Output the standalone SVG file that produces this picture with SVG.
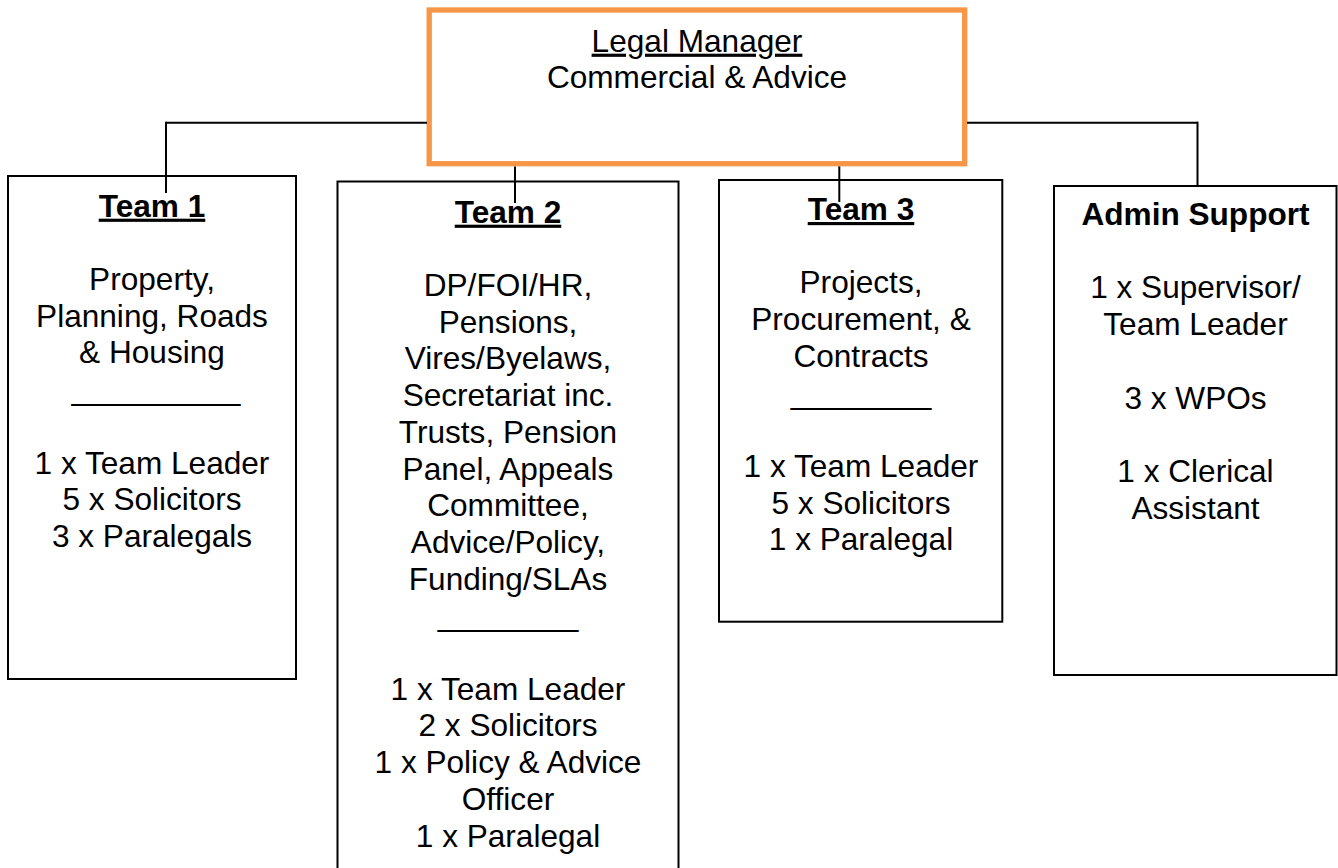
<svg xmlns="http://www.w3.org/2000/svg" width="1338" height="868" viewBox="0 0 1338 868">
  <style>
    .box { fill: #ffffff; stroke: #000000; stroke-width: 2; }
    .head { fill: #ffffff; stroke: #F79646; stroke-width: 5.3; }
    .t { font-family: "Liberation Sans", Arial, sans-serif; font-size: 31.6px; fill: #000000; text-anchor: middle; }
    .b { font-weight: bold; }
    .u { text-decoration: underline; }
    .conn line { stroke: #000000; stroke-width: 2; }
  </style>
  <rect x="0" y="0" width="1338" height="868" fill="#ffffff"/>

  <!-- Head of service -->
  <g id="legal-manager">
    <rect class="head" x="429.2" y="10" width="535.5" height="153.7"/>
    <text class="t u" x="697" y="51.7">Legal Manager</text>
    <text class="t" x="697" y="88.4">Commercial &amp; Advice</text>
  </g>

  <!-- Team 1 -->
  <g id="team-1">
    <rect class="box" x="8" y="176" width="288" height="503"/>
    <text class="t b u" x="152" y="216.7">Team 1</text>
    <text class="t" x="152" y="290"><tspan x="152">Property,</tspan><tspan x="152" dy="36.7">Planning, Roads</tspan><tspan x="152" dy="36.7">&amp; Housing</tspan></text>
    <text class="t" x="156" y="400.3" textLength="169" lengthAdjust="spacingAndGlyphs">__________</text>
    <text class="t" x="152" y="473.7"><tspan x="152">1 x Team Leader</tspan><tspan x="152" dy="36.7">5 x Solicitors</tspan><tspan x="152" dy="36.7">3 x Paralegals</tspan></text>
  </g>

  <!-- Team 2 -->
  <g id="team-2">
    <rect class="box" x="337.5" y="181.5" width="341" height="720"/>
    <text class="t b u" x="508" y="222.7">Team 2</text>
    <text class="t" x="508" y="296"><tspan x="508">DP/FOI/HR,</tspan><tspan x="508" dy="36.7">Pensions,</tspan><tspan x="508" dy="36.7">Vires/Byelaws,</tspan><tspan x="508" dy="36.7">Secretariat inc.</tspan><tspan x="508" dy="36.7">Trusts, Pension</tspan><tspan x="508" dy="36.7">Panel, Appeals</tspan><tspan x="508" dy="36.7">Committee,</tspan><tspan x="508" dy="36.7">Advice/Policy,</tspan><tspan x="508" dy="36.7">Funding/SLAs</tspan></text>
    <text class="t" x="508" y="626.3">________</text>
    <text class="t" x="508" y="699.7"><tspan x="508">1 x Team Leader</tspan><tspan x="508" dy="36.7">2 x Solicitors</tspan><tspan x="508" dy="36.7">1 x Policy &amp; Advice</tspan><tspan x="508" dy="36.7">Officer</tspan><tspan x="508" dy="36.7">1 x Paralegal</tspan></text>
  </g>

  <!-- Team 3 -->
  <g id="team-3">
    <rect class="box" x="719" y="180" width="283.3" height="441.7"/>
    <text class="t b u" x="861" y="220">Team 3</text>
    <text class="t" x="861" y="293.4"><tspan x="861">Projects,</tspan><tspan x="861" dy="36.7">Procurement, &amp;</tspan><tspan x="861" dy="36.7">Contracts</tspan></text>
    <text class="t" x="861" y="403.5">________</text>
    <text class="t" x="861" y="476.9"><tspan x="861">1 x Team Leader</tspan><tspan x="861" dy="36.7">5 x Solicitors</tspan><tspan x="861" dy="36.7">1 x Paralegal</tspan></text>
  </g>

  <!-- Admin support -->
  <g id="admin-support">
    <rect class="box" x="1054" y="186" width="282.5" height="489"/>
    <text class="t b" x="1195.5" y="225">Admin Support</text>
    <text class="t" x="1195.5" y="298.4"><tspan x="1195.5">1 x Supervisor/</tspan><tspan x="1195.5" dy="36.7">Team Leader</tspan><tspan x="1195.5" dy="73.4">3 x WPOs</tspan><tspan x="1195.5" dy="73.4">1 x Clerical</tspan><tspan x="1195.5" dy="36.7">Assistant</tspan></text>
  </g>

  <!-- Reporting lines -->
  <g id="connectors" class="conn">
    <line x1="166" y1="122.7" x2="427" y2="122.7"/>
    <line x1="166" y1="121.7" x2="166" y2="193"/>
    <line x1="967" y1="122.7" x2="1198" y2="122.7"/>
    <line x1="1197.5" y1="121.7" x2="1197.5" y2="186"/>
    <line x1="515" y1="166.4" x2="515" y2="203"/>
    <line x1="839.3" y1="166.4" x2="839.3" y2="202"/>
  </g>
</svg>
